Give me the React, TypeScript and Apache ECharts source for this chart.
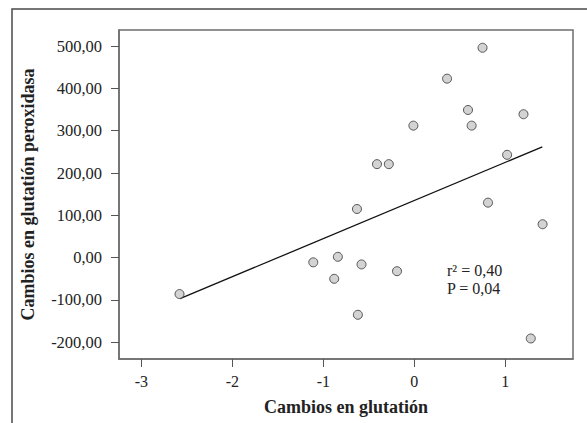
import React, { useEffect, useRef } from "react";
import * as echarts from "echarts";

const glutationChange: number[] = [
  0.75, 0.36, 0.59, 0.63, 1.2, -0.01, -0.41, -0.28, 1.02, 0.81, -0.63,
  1.41, -1.11, -0.84, -0.58, -0.19, -0.88, -0.62, 1.28, -2.58,
];
const peroxidasaChange: number[] = [
  496, 423, 349, 312, 339, 312, 221, 221, 243, 130, 115,
  79, -11, 2, -16, -32, -50, -135, -191, -86,
];
const fitLineX: number[] = [-2.575, 1.407];
const fitLineY: number[] = [-97, 262];
const xTicks: number[] = [-3, -2, -1, 0, 1];
const yTicks: number[] = [-200, -100, 0, 100, 200, 300, 400, 500];
const statLines: string[] = ["r\u00B2 = 0,40", "P = 0,04"];
const xTitle = "Cambios en glutatión";
const yTitle = "Cambios en glutatión peroxidasa";

const FONT = "'Liberation Serif', 'Times New Roman', serif";

export default function App() {
  const ref = useRef<HTMLDivElement>(null);
  useEffect(() => {
    document.body.style.margin = "0";
    if (!ref.current) return;
    const chart = echarts.init(ref.current, null, { renderer: "svg" });
    const points = glutationChange.map((x, i) => [x, peroxidasaChange[i]]);
    const line = fitLineX.map((x, i) => [x, fitLineY[i]]);
    chart.setOption({
      animation: false,
      backgroundColor: "#fff",
      textStyle: { fontFamily: FONT },
      grid: {
        left: 119,
        top: 30,
        right: 14,
        bottom: 64,
        show: true,
        borderColor: "#6e6e6e",
        borderWidth: 1.5,
        backgroundColor: "transparent",
      },
      xAxis: {
        type: "value",
        min: -3.245,
        max: 1.744,
        name: xTitle,
        nameLocation: "middle",
        nameGap: 39,
        nameTextStyle: { fontFamily: FONT, fontWeight: "bold", fontSize: 18, color: "#222" },
        axisLine: { show: true, onZero: false, lineStyle: { color: "#6e6e6e", width: 1.5 } },
        axisTick: { show: true, length: 8, customValues: xTicks, lineStyle: { color: "#555" } },
        axisLabel: {
          customValues: xTicks,
          fontFamily: FONT,
          fontSize: 16,
          color: "#222",
          margin: 14,
          formatter: (v: number) => String(v),
        },
        splitLine: { show: false },
      },
      yAxis: {
        type: "value",
        min: -239.5,
        max: 538,
        name: yTitle,
        nameLocation: "middle",
        nameRotate: 90,
        nameGap: 82,
        nameTextStyle: { fontFamily: FONT, fontWeight: "bold", fontSize: 18, color: "#222" },
        axisLine: { show: true, onZero: false, lineStyle: { color: "#6e6e6e", width: 1.5 } },
        axisTick: { show: true, length: 8, customValues: yTicks, lineStyle: { color: "#555" } },
        axisLabel: {
          customValues: yTicks,
          fontFamily: FONT,
          fontSize: 16.5,
          color: "#222",
          margin: 17,
          formatter: (v: number) => v.toFixed(2).replace(".", ","),
        },
        splitLine: { show: false },
      },
      graphic: [
        {
          type: "rect",
          shape: { x: 12, y: 9, width: 700, height: 600 },
          style: { fill: "none", stroke: "#4a4a4a", lineWidth: 1.5 },
          silent: true,
          z: -1,
        },
        ...statLines.map((t, i) => ({
          type: "text",
          x: 447,
          y: 270 + i * 18,
          style: {
            text: t,
            font: `16px ${FONT}`,
            fill: "#222",
            verticalAlign: "middle",
          },
        })),
      ],
      series: [
        {
          type: "line",
          data: line,
          symbol: "none",
          lineStyle: { color: "#111", width: 1.3 },
          z: 2,
        },
        {
          type: "scatter",
          data: points,
          symbol: "circle",
          symbolSize: 9,
          itemStyle: { color: "#c8c8c8", borderColor: "#333", borderWidth: 1 },
          z: 3,
        },
      ],
    });
    return () => chart.dispose();
  }, []);
  return <div ref={ref} style={{ width: 587, height: 423 }} />;
}
